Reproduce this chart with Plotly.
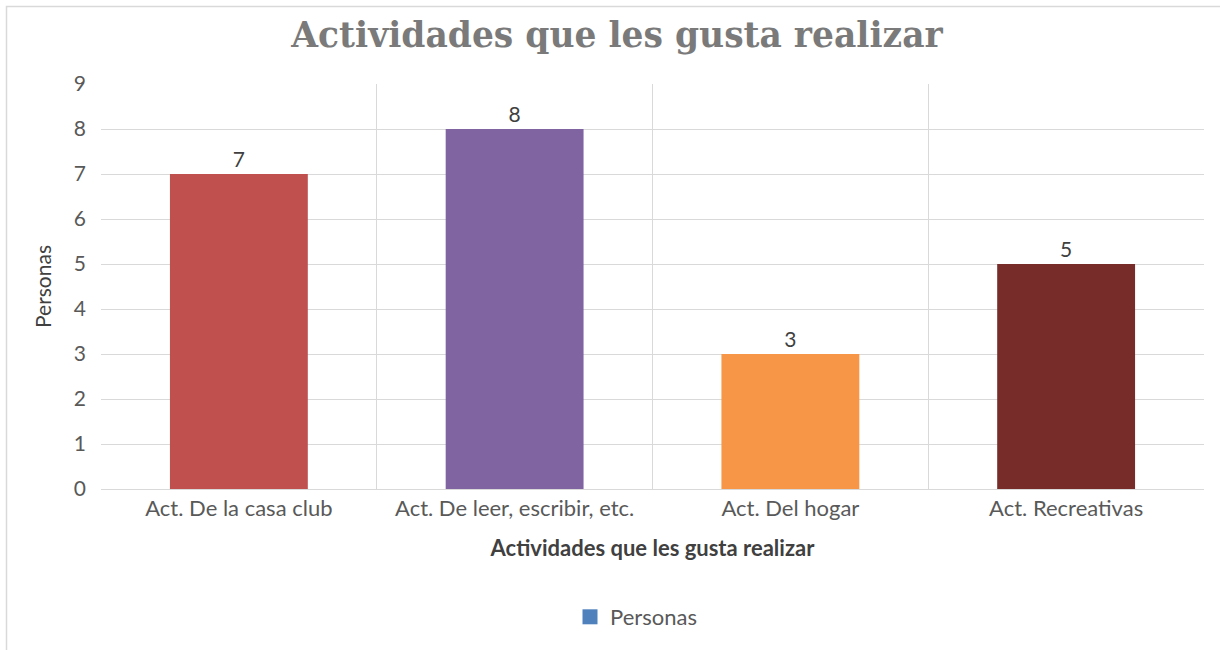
import plotly.graph_objects as go

categories = ["Act. De la casa club", "Act. De leer, escribir, etc.", "Act. Del hogar", "Act. Recreativas"]
values = [7, 8, 3, 5]
bar_colors = ["#C0504D", "#8064A2", "#F79646", "#772C2A"]
series_name = "Personas"
legend_color = "#4F81BD"
y_ticks = list(range(0, 10))

W, H = 1220, 650
L, R, T, B = 101, 16, 84, 161
PW, PH = W - L - R, H - T - B

TXT = "Lato"
FS = 22

fig = go.Figure()
fig.add_trace(go.Bar(
    x=categories, y=values, marker=dict(color=bar_colors, line=dict(width=0)),
    width=0.5, text=values, textposition="outside",
    textfont=dict(family=TXT, size=FS - 1, color="#404040"),
    cliponaxis=False, showlegend=False, name=series_name,
))
fig.add_trace(go.Scatter(
    x=[categories[0]], y=[None], mode="markers",
    marker=dict(color=legend_color, symbol="square", size=15),
    name=series_name, showlegend=True,
))

fig.update_layout(
    width=W, height=H,
    margin=dict(l=L, r=R, t=T, b=B),
    paper_bgcolor="white", plot_bgcolor="white",
    barmode="overlay",
    title=dict(text="<b>Actividades que les gusta realizar</b>", x=617 / W, xref="container",
               xanchor="center",
               y=1 - 35 / H, yanchor="middle",
               font=dict(family="DejaVu Serif", size=34.5, color="#7A7A7A")),
    font=dict(family=TXT, size=FS, color="#595959"),
    showlegend=True,
    legend=dict(orientation="h", x=(636 - L) / PW, xanchor="center",
                y=-(617 - 489) / PH, yanchor="middle",
                font=dict(family=TXT, size=FS, color="#595959"),
                itemwidth=30),
    xaxis=dict(
        type="category", tickson="boundaries", showgrid=True, gridcolor="#D9D9D9",
        gridwidth=1, ticks="", showline=True, linecolor="#D9D9D9",
        range=[-0.5, 3.5],
        tickfont=dict(family=TXT, size=FS, color="#595959"),
        title=dict(text="<b>Actividades que les gusta realizar</b>", standoff=20,
                   font=dict(family=TXT, size=FS, color="#404040")),
    ),
    yaxis=dict(
        range=[0, 9], tickvals=y_ticks, showgrid=True, gridcolor="#D9D9D9",
        gridwidth=1, zeroline=False, showline=False, ticks="",
        ticklabelstandoff=14,
        tickfont=dict(family=TXT, size=FS - 1, color="#595959"),
        title=dict(text="Personas", standoff=16,
                   font=dict(family=TXT, size=FS - 1, color="#404040")),
    ),
    shapes=[dict(type="rect", xref="paper", yref="paper",
                 x0=(6.5 - L) / PW, x1=(1230 - L) / PW,
                 y0=-(700 - 489) / PH, y1=(489 - 6.5) / PH,
                 line=dict(color="#D9D9D9", width=1.5), fillcolor="rgba(0,0,0,0)",
                 layer="below")],
)

fig.write_html("out.html", config={"displayModeBar": False},
               post_script="document.body.style.margin='0';")
